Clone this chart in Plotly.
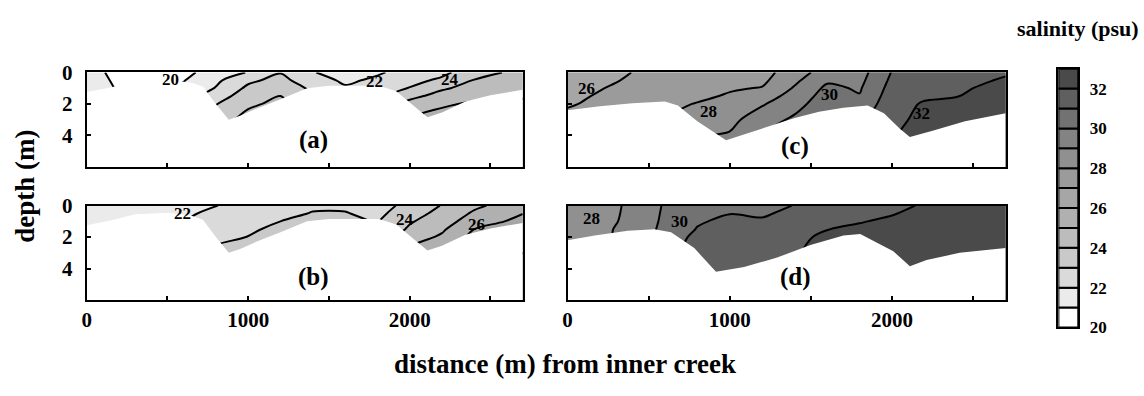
import plotly.graph_objects as go

# ---------------- data ----------------
DIST = [0, 200, 400, 600, 800, 1000, 1200, 1400, 1600, 1800, 2000, 2200, 2400, 2700]
DEPTH = [0, 0.5, 1, 1.5, 2, 3, 4, 6.1]

# salinity (psu); one list per distance column, values listed by DEPTH
SAL_A = [
    [21.4, 21.5, 21.6, 21.7, 21.8, 22.0, 22.2, 22.5],
    [20.7, 20.8, 20.9, 21.0, 21.1, 21.3, 21.5, 21.8],
    [20.4, 20.5, 20.6, 20.8, 21.0, 21.3, 21.6, 22.0],
    [20.7, 20.95, 21.2, 21.5, 21.8, 22.3, 22.8, 23.5],
    [21.5, 21.8, 22.05, 22.5, 22.95, 23.6, 24.2, 25.0],
    [22.05, 22.8, 23.2, 23.55, 23.85, 24.3, 24.6, 25.0],
    [22.95, 23.3, 23.65, 24.0, 24.2, 24.5, 24.7, 25.0],
    [22.05, 22.4, 22.8, 23.1, 23.4, 23.8, 24.1, 24.5],
    [21.6, 21.85, 22.1, 22.4, 22.7, 23.2, 23.6, 24.0],
    [21.9, 22.15, 22.45, 22.8, 23.2, 23.8, 24.3, 25.0],
    [22.3, 22.65, 23.05, 23.7, 24.35, 25.05, 25.4, 26.0],
    [22.75, 23.2, 23.85, 24.4, 24.9, 25.3, 25.6, 26.0],
    [23.6, 24.05, 24.4, 24.8, 25.1, 25.4, 25.7, 26.0],
    [24.3, 24.5, 24.75, 24.95, 25.1, 25.4, 25.7, 26.0],
]
SAL_B = [
    [21.3, 21.4, 21.5, 21.6, 21.7, 21.9, 22.1, 22.5],
    [21.4, 21.5, 21.6, 21.7, 21.8, 22.0, 22.2, 22.6],
    [21.5, 21.6, 21.75, 21.9, 22.0, 22.2, 22.4, 22.8],
    [21.7, 21.85, 22.0, 22.2, 22.4, 22.7, 23.0, 23.3],
    [21.98, 22.2, 22.4, 22.6, 22.8, 23.2, 23.5, 23.8],
    [22.3, 22.45, 22.6, 22.8, 23.02, 23.4, 23.7, 24.0],
    [22.5, 22.75, 23.0, 23.3, 23.55, 23.9, 24.1, 24.4],
    [22.85, 23.05, 23.25, 23.45, 23.6, 23.9, 24.1, 24.4],
    [22.85, 23.05, 23.2, 23.35, 23.5, 23.8, 24.0, 24.3],
    [22.6, 22.75, 22.95, 23.1, 23.3, 23.6, 23.9, 24.2],
    [23.3, 23.6, 23.9, 24.15, 24.55, 25.3, 25.6, 25.9],
    [24.05, 24.3, 24.55, 24.85, 25.15, 25.6, 25.9, 26.2],
    [24.8, 25.15, 25.5, 26.0, 26.3, 26.6, 26.8, 27.0],
    [25.6, 25.98, 26.3, 26.5, 26.7, 27.0, 27.2, 27.4],
]
SAL_C = [
    [26.3, 26.45, 26.6, 26.75, 26.9, 27.3, 27.6, 28.0],
    [26.5, 26.75, 26.95, 27.1, 27.2, 27.5, 27.8, 28.2],
    [27.02, 27.15, 27.3, 27.45, 27.6, 27.8, 28.0, 28.3],
    [27.2, 27.3, 27.45, 27.6, 27.75, 28.05, 28.3, 28.6],
    [27.35, 27.5, 27.65, 27.8, 28.05, 28.5, 28.9, 29.3],
    [27.5, 27.7, 27.9, 28.1, 28.3, 28.7, 29.1, 29.5],
    [27.6, 27.8, 28.05, 28.5, 28.9, 29.6, 30.0, 30.3],
    [28.6, 28.8, 29.1, 29.4, 29.7, 30.15, 30.4, 30.6],
    [29.4, 29.85, 30.2, 30.4, 30.5, 30.7, 30.8, 31.0],
    [29.6, 29.75, 29.9, 30.05, 30.3, 30.8, 31.1, 31.4],
    [31.05, 31.2, 31.35, 31.5, 31.6, 31.7, 31.9, 32.1],
    [31.4, 31.55, 31.7, 31.85, 32.1, 32.3, 32.5, 32.7],
    [31.55, 31.7, 31.85, 31.97, 32.2, 32.5, 32.7, 32.9],
    [31.9, 32.1, 32.3, 32.45, 32.6, 32.8, 32.9, 32.95],
]
SAL_D = [
    [28.4, 28.45, 28.5, 28.55, 28.6, 28.7, 28.8, 29.0],
    [28.7, 28.72, 28.75, 28.78, 28.8, 28.9, 29.0, 29.2],
    [29.15, 29.17, 29.2, 29.32, 29.35, 29.45, 29.6, 29.8],
    [30.1, 30.15, 30.2, 30.25, 30.3, 30.45, 30.6, 30.8],
    [30.5, 30.7, 30.9, 31.05, 31.3, 31.6, 31.8, 32.0],
    [30.85, 30.98, 31.2, 31.35, 31.45, 31.65, 31.8, 32.0],
    [30.8, 30.9, 31.1, 31.3, 31.45, 31.65, 31.8, 32.0],
    [31.02, 31.2, 31.4, 31.6, 31.75, 31.9, 32.0, 32.2],
    [31.4, 31.6, 31.75, 31.98, 32.2, 32.4, 32.5, 32.6],
    [31.6, 31.75, 31.95, 32.15, 32.3, 32.5, 32.6, 32.7],
    [31.75, 31.95, 32.15, 32.3, 32.4, 32.6, 32.7, 32.8],
    [32.1, 32.25, 32.4, 32.5, 32.6, 32.7, 32.8, 32.9],
    [32.3, 32.4, 32.5, 32.6, 32.65, 32.75, 32.85, 32.9],
    [32.4, 32.5, 32.55, 32.6, 32.7, 32.8, 32.9, 32.95],
]

# bed profiles (distance m, depth m)
BED_LOW_DIST = [0, 150, 300, 500, 650, 720, 800, 880, 950, 1050, 1200, 1365, 1500,
                1680, 1810, 1917, 2000, 2110, 2200, 2345, 2500, 2700]
BED_LOW_DEPTH = [1.25, 0.95, 0.55, 0.45, 0.65, 0.9, 2.0, 3.0, 2.75, 2.3, 1.7, 1.0, 0.85,
                 0.85, 0.85, 1.2, 1.9, 2.85, 2.55, 1.85, 1.45, 1.1]
BED_C_DIST = [0, 200, 400, 600, 680, 800, 977, 1100, 1250, 1400, 1550, 1700, 1850,
              1950, 2050, 2110, 2250, 2450, 2700]
BED_C_DEPTH = [2.4, 2.15, 1.95, 1.85, 2.1, 3.1, 4.3, 3.9, 3.4, 2.9, 2.5, 2.25, 2.1,
               2.6, 3.6, 4.1, 3.7, 3.1, 2.6]
BED_D_DIST = [0, 168, 372, 536, 638, 781, 915, 1088, 1292, 1497, 1701, 1804, 2008,
              2110, 2213, 2417, 2700]
BED_D_DEPTH = [2.2, 1.9, 1.6, 1.5, 1.7, 2.7, 4.2, 3.9, 3.3, 2.5, 1.9, 1.8, 2.9,
               3.85, 3.45, 3.0, 2.7]

# contour labels (text, distance, depth)
LABELS_A = [("20", 520, 0.45), ("22", 1780, 0.55), ("24", 2250, 0.45)]
LABELS_B = [("22", 592, 0.5), ("24", 1973, 0.9), ("26", 2414, 1.2)]
LABELS_C = [("26", 117, 1.0), ("28", 871, 2.45), ("30", 1613, 1.4), ("32", 2184, 2.6)]
LABELS_D = [("28", 147, 0.85), ("30", 687, 1.0)]

X_TICKS = [0, 500, 1000, 1500, 2000, 2500]
X_TICKTEXT = ["0", "", "1000", "", "2000", ""]
Y_TICKS = [0, 2, 4]
Y_TICKTEXT = ["0", "2", "4"]
CBAR_CLASSES = list(range(20, 33))      # lower bound of each 1-psu class
CBAR_TICKS = [20, 22, 24, 26, 28, 30, 32]

# ---------------- style ----------------
GRAYS = ["#ffffff", "#ebebeb", "#dadada", "#c9c9c9", "#bcbcbc", "#b0b0b0", "#a6a6a6",
         "#9b9b9b", "#909090", "#838383", "#727272", "#5f5f5f", "#4a4a4a"]
ZMIN, ZMAX = 20, 33
FONT = "Liberation Serif, Times New Roman, serif"
W, H = 1144, 396
Y_BOTTOM = 6.1

colorscale = []
n = len(GRAYS)
for k, c in enumerate(GRAYS):
    colorscale.append([k / n, c])
    colorscale.append([(k + 1) / n, c])


def bold(size):
    return dict(family=FONT, size=size, color="black", weight="bold")


def contour(cols, xa, ya):
    z = [list(r) for r in zip(*cols)]
    return go.Contour(
        x=DIST, y=DEPTH, z=z, xaxis=xa, yaxis=ya,
        zmin=ZMIN, zmax=ZMAX, autocontour=False,
        contours=dict(start=ZMIN, end=ZMAX, size=1, coloring="fill", showlines=True),
        line=dict(color="black", width=2, smoothing=1),
        colorscale=colorscale, showscale=False, hoverinfo="skip",
    )


def bed(dist, depth, xa, ya):
    base = go.Scatter(x=dist, y=[Y_BOTTOM] * len(dist), mode="lines",
                      line=dict(width=0, color="white"), xaxis=xa, yaxis=ya,
                      showlegend=False, hoverinfo="skip")
    top = go.Scatter(x=dist, y=depth, mode="lines", line=dict(width=0, color="white"),
                     fill="tonexty", fillcolor="white", xaxis=xa, yaxis=ya,
                     showlegend=False, hoverinfo="skip")
    return [base, top]


fig = go.Figure()
panels = [
    (SAL_A, BED_LOW_DIST, BED_LOW_DEPTH, "x", "y"),
    (SAL_B, BED_LOW_DIST, BED_LOW_DEPTH, "x2", "y2"),
    (SAL_C, BED_C_DIST, BED_C_DEPTH, "x3", "y3"),
    (SAL_D, BED_D_DIST, BED_D_DEPTH, "x4", "y4"),
]
for sal, bd, bz, xa, ya in panels:
    fig.add_trace(contour(sal, xa, ya))
    for t in bed(bd, bz, xa, ya):
        fig.add_trace(t)

# discrete salinity scale (one block per 1-psu class)
fig.add_trace(go.Bar(
    x=[0] * len(CBAR_CLASSES), y=[1] * len(CBAR_CLASSES), base=CBAR_CLASSES,
    width=1, marker=dict(color=GRAYS, line=dict(color="black", width=2)),
    xaxis="x5", yaxis="y5", showlegend=False, hoverinfo="skip",
))

LEFT = [82 / W, 520 / W]
RIGHT = [565 / W, 1005 / W]
TOP = [1 - 164 / H, 1 - 64 / H]
BOTTOM = [1 - 305 / H, 1 - 205 / H]


def xaxis(domain, anchor, labels):
    return dict(domain=domain, anchor=anchor, range=[0, 2700], tickvals=X_TICKS,
                ticktext=X_TICKTEXT, showticklabels=labels, ticks="inside", ticklen=4,
                tickwidth=1.5, tickcolor="black", showline=True, mirror=True,
                linecolor="black", linewidth=2, showgrid=False, zeroline=False,
                tickfont=bold(21), fixedrange=True)


def yaxis(domain, anchor, labels):
    return dict(domain=domain, anchor=anchor, range=[6, 0], tickvals=Y_TICKS,
                ticktext=Y_TICKTEXT, showticklabels=labels, ticks="inside", ticklen=4,
                tickwidth=1.5, tickcolor="black", showline=True, mirror=True,
                linecolor="black", linewidth=2, showgrid=False, zeroline=False,
                tickfont=bold(21), ticklabelstandoff=8, fixedrange=True)


annotations = [
    dict(text="depth (m)", x=20 / W, y=1 - 184 / H, xref="paper", yref="paper",
         xanchor="center", yanchor="middle", textangle=-90, showarrow=False,
         font=bold(27)),
    dict(text="distance (m) from inner creek", x=562 / W, y=1 - 373 / H,
         xref="paper", yref="paper", xanchor="center", yanchor="middle",
         showarrow=False, font=bold(27)),
    dict(text="salinity (psu)", x=1078 / W, y=1 - 17 / H, xref="paper", yref="paper",
         xanchor="center", yanchor="middle", showarrow=False, font=bold(22)),
]
for name, xa, ya, yy in [("(a)", "x", "y", 0.29), ("(b)", "x2", "y2", 0.24),
                         ("(c)", "x3", "y3", 0.22), ("(d)", "x4", "y4", 0.24)]:
    annotations.append(dict(text=name, x=0.52, y=yy, xref=xa + " domain",
                            yref=ya + " domain", xanchor="center", yanchor="middle",
                            showarrow=False, font=bold(25)))
for labels, xa, ya in [(LABELS_A, "x", "y"), (LABELS_B, "x2", "y2"),
                       (LABELS_C, "x3", "y3"), (LABELS_D, "x4", "y4")]:
    for txt, dx, dy in labels:
        annotations.append(dict(text=txt, x=dx, y=dy, xref=xa, yref=ya,
                                xanchor="center", yanchor="middle",
                                showarrow=False, font=bold(17)))

fig.update_layout(
    width=W, height=H, margin=dict(l=0, r=0, t=0, b=0),
    paper_bgcolor="white", plot_bgcolor="white", showlegend=False,
    xaxis=xaxis(LEFT, "y", False), yaxis=yaxis(TOP, "x", True),
    xaxis2=xaxis(LEFT, "y2", True), yaxis2=yaxis(BOTTOM, "x2", True),
    xaxis3=xaxis(RIGHT, "y3", False), yaxis3=yaxis(TOP, "x3", False),
    xaxis4=xaxis(RIGHT, "y4", True), yaxis4=yaxis(BOTTOM, "x4", False),
    xaxis5=dict(domain=[1058 / W, 1078 / W], anchor="y5", range=[-0.5, 0.5],
                showticklabels=False, ticks="", showline=True, mirror=True,
                linecolor="black", linewidth=2, showgrid=False, zeroline=False,
                fixedrange=True),
    yaxis5=dict(domain=[1 - 334 / H, 1 - 60 / H], anchor="x5", range=[20, 33],
                side="right", tickvals=CBAR_TICKS, ticks="", showline=True,
                mirror=True, linecolor="black", linewidth=2, showgrid=False,
                zeroline=False, tickfont=bold(17), ticklabelstandoff=6,
                fixedrange=True),
    annotations=annotations,
)

fig.write_html("out.html")
